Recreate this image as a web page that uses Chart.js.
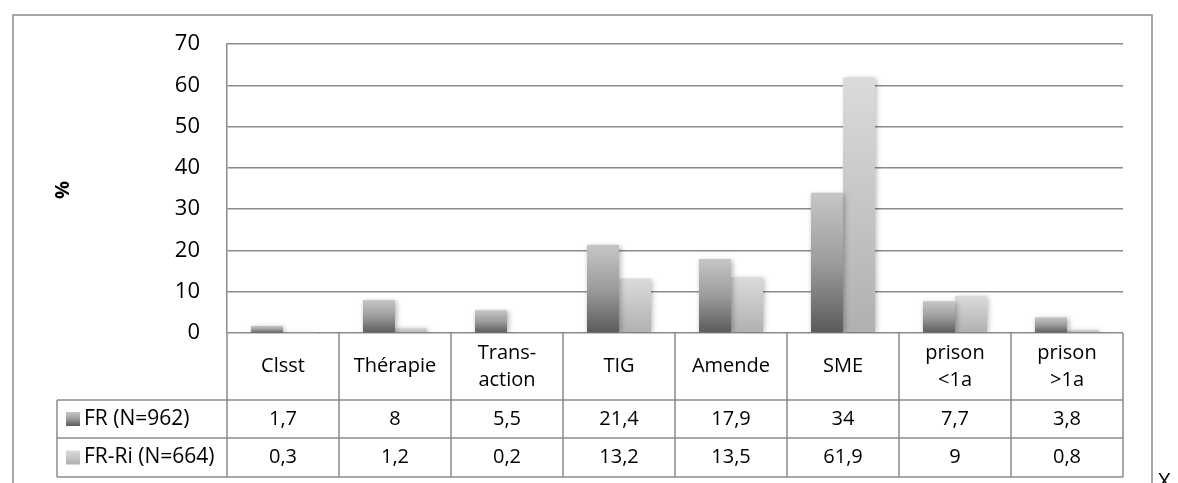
<!DOCTYPE html>
<html>
<head>
<meta charset="utf-8">
<title>FR / FR-Ri</title>
<script src="https://cdn.jsdelivr.net/npm/chart.js@4.4.1/dist/chart.umd.min.js"></script>
<style>
  html, body { margin: 0; padding: 0; background: #fff; }
  #wrap { position: relative; width: 1178px; height: 483px; }
</style>
</head>
<body>
<div id="wrap"><canvas id="chart"></canvas></div>
<script>
// data
const categories = ['Clsst', 'Thérapie', ['Trans-', 'action'], 'TIG', 'Amende', 'SME', ['prison', '<1a'], ['prison', '>1a']];
const seriesNames = ['FR (N=962)', 'FR-Ri (N=664)'];
const frValues = [1.7, 8, 5.5, 21.4, 17.9, 34, 7.7, 3.8];
const friValues = [0.3, 1.2, 0.2, 13.2, 13.5, 61.9, 9, 0.8];
const frLabels = ['1,7', '8', '5,5', '21,4', '17,9', '34', '7,7', '3,8'];
const friLabels = ['0,3', '1,2', '0,2', '13,2', '13,5', '61,9', '9', '0,8'];
const yTicks = [0, 10, 20, 30, 40, 50, 60, 70];

const LINE = '#8a8a8a';
const FONT = "'Open Sans', 'Noto Sans', sans-serif";

// gradient stops, bottom -> top
const frStops = [[0, '#5a5a5a'], [0.5, '#9c9c9c'], [1, '#c6c6c6']];
const friStops = [[0, '#b0b0b0'], [1, '#dbdbdb']];

function makeGradient(ctx, yBottom, yTop, stops) {
  const g = ctx.createLinearGradient(0, yBottom, 0, yTop);
  stops.forEach(s => g.addColorStop(s[0], s[1]));
  return g;
}

// one gradient per bar, from its base to its top
function barFill(stops) {
  return function(context) {
    const chart = context.chart;
    if (!chart.chartArea) return stops[stops.length - 1][1];
    const y = chart.scales.y;
    const top = y.getPixelForValue(context.raw);
    const bottom = y.getPixelForValue(0);
    return makeGradient(chart.ctx, bottom, Math.min(top, bottom - 1), stops);
  };
}

const shadowPlugin = {
  id: 'barShadow',
  beforeDatasetsDraw(chart) {
    const ctx = chart.ctx;
    ctx.save();
    ctx.shadowColor = 'rgba(0,0,0,0.28)';
    ctx.shadowBlur = 5;
    ctx.shadowOffsetX = 1.5;
    ctx.shadowOffsetY = 1;
  },
  afterDatasetsDraw(chart) {
    chart.ctx.restore();
  }
};

// data table under the plot + outer frame
const tablePlugin = {
  id: 'dataTable',
  afterDraw(chart) {
    const ctx = chart.ctx;
    const area = chart.chartArea;
    const x = chart.scales.x;
    const n = categories.length;
    const colW = (area.right - area.left) / n;
    const top = area.bottom;
    const headBottom = top + 67;
    const row1Bottom = headBottom + 38;
    const row2Bottom = row1Bottom + 39;
    const legendLeft = 57;

    ctx.save();
    ctx.strokeStyle = LINE;
    ctx.lineWidth = 1.5;

    // outer frame (left, top, right)
    ctx.beginPath();
    ctx.moveTo(13, 483);
    ctx.lineTo(13, 15);
    ctx.lineTo(1152, 15);
    ctx.lineTo(1152, 483);
    ctx.stroke();

    // table grid
    ctx.beginPath();
    for (let i = 0; i <= n; i++) {
      const xx = area.left + i * colW;
      ctx.moveTo(xx, top);
      ctx.lineTo(xx, row2Bottom);
    }
    [headBottom, row1Bottom, row2Bottom].forEach(yy => {
      ctx.moveTo(legendLeft, yy);
      ctx.lineTo(area.right, yy);
    });
    ctx.moveTo(legendLeft, headBottom);
    ctx.lineTo(legendLeft, row2Bottom);
    ctx.stroke();

    ctx.fillStyle = '#000';
    ctx.textAlign = 'center';
    ctx.textBaseline = 'middle';
    ctx.font = '20px ' + FONT;

    // header labels
    categories.forEach((c, i) => {
      const cx = x.getPixelForValue(i);
      const lines = Array.isArray(c) ? c : [c];
      const mid = (top + headBottom) / 2;
      lines.forEach((l, k) => {
        const yy = mid + (k - (lines.length - 1) / 2) * 27;
        ctx.fillText(l, cx, yy);
      });
    });

    // values
    const r1 = (headBottom + row1Bottom) / 2;
    const r2 = (row1Bottom + row2Bottom) / 2;
    frLabels.forEach((t, i) => ctx.fillText(t, x.getPixelForValue(i), r1));
    friLabels.forEach((t, i) => ctx.fillText(t, x.getPixelForValue(i), r2));

    // legend keys
    ctx.textAlign = 'left';
    ctx.font = '21px ' + FONT;
    [[r1, frStops, seriesNames[0]], [r2, friStops, seriesNames[1]]].forEach(item => {
      const yy = item[0];
      ctx.fillStyle = makeGradient(ctx, yy + 7, yy - 7, item[1]);
      ctx.fillRect(66, yy - 7, 14, 14);
      ctx.fillStyle = '#000';
      ctx.fillText(item[2], 84, yy);
    });

    // axis title "%"
    ctx.save();
    ctx.translate(63, 190);
    ctx.rotate(-Math.PI / 2);
    ctx.textAlign = 'center';
    ctx.font = 'bold 20px ' + FONT;
    ctx.fillText('%', 0, 0);
    ctx.restore();

    // stray character at the bottom right of the picture
    ctx.textBaseline = 'top';
    ctx.font = '22px ' + FONT;
    ctx.fillText('X', 1158, 472);

    ctx.restore();
  }
};

new Chart(document.getElementById('chart'), {
  type: 'bar',
  data: {
    labels: categories,
    datasets: [
      {
        label: seriesNames[0],
        data: frValues,
        backgroundColor: barFill(frStops),
        borderWidth: 0,
        categoryPercentage: 0.572,
        barPercentage: 1
      },
      {
        label: seriesNames[1],
        data: friValues,
        backgroundColor: barFill(friStops),
        borderWidth: 0,
        categoryPercentage: 0.572,
        barPercentage: 1
      }
    ]
  },
  options: {
    responsive: true,
    maintainAspectRatio: false,
    animation: false,
    layout: { padding: { left: 0, top: 44, right: 55, bottom: 150 } },
    scales: {
      x: { display: false },
      y: {
        min: 0,
        max: 70,
        afterFit: function(scale) { scale.width = 227; },
        afterBuildTicks: function(scale) { scale.ticks = yTicks.map(v => ({ value: v })); },
        grid: { color: LINE, lineWidth: 1.5, drawTicks: false },
        border: { display: true, color: LINE, width: 1.5 },
        ticks: {
          padding: 27,
          color: '#000',
          font: { family: FONT, size: 22 }
        }
      }
    },
    plugins: {
      legend: { display: false },
      tooltip: { enabled: false }
    }
  },
  plugins: [shadowPlugin, tablePlugin]
});
</script>
</body>
</html>
